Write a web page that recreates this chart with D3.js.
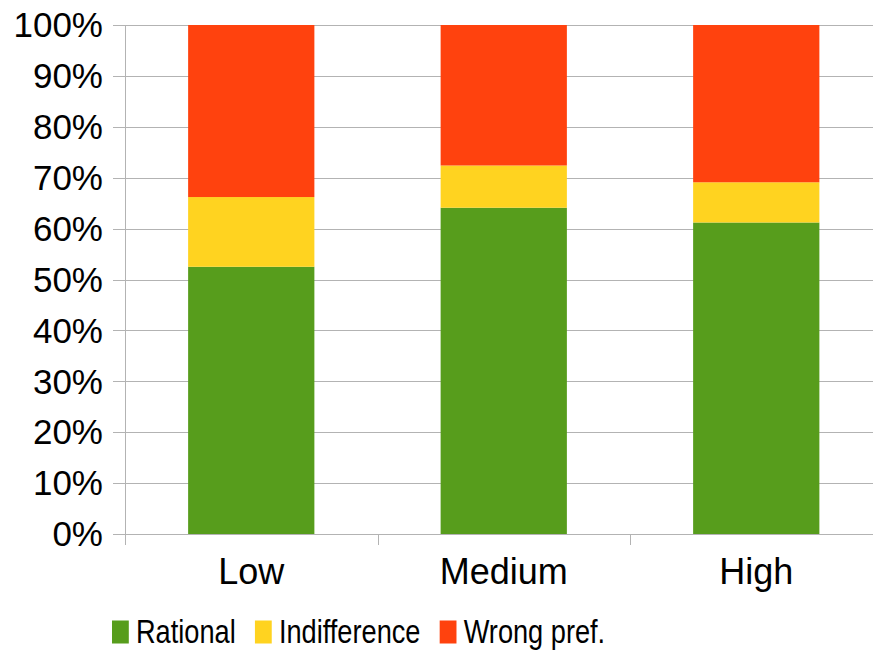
<!DOCTYPE html>
<html>
<head>
<meta charset="utf-8">
<script src="https://cdn.jsdelivr.net/npm/d3@7"></script>
<style>
  html, body { margin: 0; padding: 0; background: #fff; }
  svg { display: block; font-family: "Liberation Sans", Arial, sans-serif; }
</style>
</head>
<body>
<svg id="chart" width="873" height="653"></svg>
<script>
// Stacked shares per condition (percent)
const categories = ["Low", "Medium", "High"];
const seriesNames = ["Rational", "Indifference", "Wrong pref."];
const rational = [52.5, 64.1, 61.2];
const indifference = [13.7, 8.3, 7.9];
const wrongPref = [33.8, 27.6, 30.9];
const yTicks = [0, 10, 20, 30, 40, 50, 60, 70, 80, 90, 100];
const colors = ["#579D1C", "#FFD320", "#FF420E"];

(function () {
  const rows = categories.map((c, i) => ({
    category: c,
    "Rational": rational[i],
    "Indifference": indifference[i],
    "Wrong pref.": wrongPref[i]
  }));

  const svg = d3.select("#chart");
  const plotLeft = 125, plotRight = 882.5, plotTop = 25, plotBottom = 534;

  const x = d3.scaleBand().domain(categories).range([plotLeft, plotRight]).paddingInner(0).paddingOuter(0);
  const y = d3.scaleLinear().domain([0, 100]).range([plotBottom, plotTop]);
  const color = d3.scaleOrdinal().domain(seriesNames).range(colors);

  const gridColor = "#b3b3b3";

  // Horizontal gridlines with short ticks to the left of the axis
  svg.append("g")
    .selectAll("line")
    .data(yTicks)
    .join("line")
    .attr("x1", plotLeft - 12)
    .attr("x2", plotRight)
    .attr("y1", d => Math.round(y(d)) + 0.5)
    .attr("y2", d => Math.round(y(d)) + 0.5)
    .attr("stroke", gridColor)
    .attr("stroke-width", 1);

  // Y axis labels
  svg.append("g")
    .selectAll("text")
    .data(yTicks)
    .join("text")
    .attr("x", plotLeft - 22)
    .attr("y", d => y(d))
    .attr("dy", "0.35em")
    .attr("text-anchor", "end")
    .attr("font-size", 35)
    .attr("fill", "#000")
    .text(d => d + "%");

  // Stacked bars
  const layers = d3.stack().keys(seriesNames)(rows);
  const barW = x.bandwidth() * 0.5;

  svg.append("g")
    .selectAll("g")
    .data(layers)
    .join("g")
    .attr("fill", d => color(d.key))
    .selectAll("rect")
    .data(d => d)
    .join("rect")
    .attr("x", d => x(d.data.category) + (x.bandwidth() - barW) / 2)
    .attr("width", barW)
    .attr("y", d => y(d[1]))
    .attr("height", d => y(d[0]) - y(d[1]));

  // Axis lines and category ticks
  const axes = svg.append("g").attr("stroke", gridColor).attr("stroke-width", 1);
  axes.append("line")
    .attr("x1", plotLeft + 0.5).attr("x2", plotLeft + 0.5)
    .attr("y1", plotTop).attr("y2", plotBottom + 11);
  axes.append("line")
    .attr("x1", plotLeft).attr("x2", plotRight)
    .attr("y1", Math.round(plotBottom) + 0.5).attr("y2", Math.round(plotBottom) + 0.5);
  const bandEdges = categories.map(c => x(c)).concat([plotRight]);
  axes.selectAll("line.tick")
    .data(bandEdges)
    .join("line")
    .attr("class", "tick")
    .attr("x1", d => Math.round(d) + 0.5).attr("x2", d => Math.round(d) + 0.5)
    .attr("y1", plotBottom).attr("y2", plotBottom + 11);

  // Category labels
  svg.append("g")
    .selectAll("text")
    .data(categories)
    .join("text")
    .attr("x", d => x(d) + x.bandwidth() / 2)
    .attr("y", 584)
    .attr("text-anchor", "middle")
    .attr("font-size", 36)
    .attr("fill", "#000")
    .text(d => d);

  // Legend (horizontally condensed)
  const legend = svg.append("g").attr("transform", "translate(112,0) scale(0.8,1)");
  let cursor = 0;
  seriesNames.forEach((name) => {
    legend.append("rect")
      .attr("x", cursor)
      .attr("y", 620.5)
      .attr("width", 21)
      .attr("height", 23)
      .attr("fill", color(name));
    const t = legend.append("text")
      .attr("x", cursor + 30)
      .attr("y", 643)
      .attr("font-size", 34)
      .attr("fill", "#000")
      .text(name);
    cursor += 30 + t.node().getComputedTextLength() + 24;
  });
})();
</script>
</body>
</html>
